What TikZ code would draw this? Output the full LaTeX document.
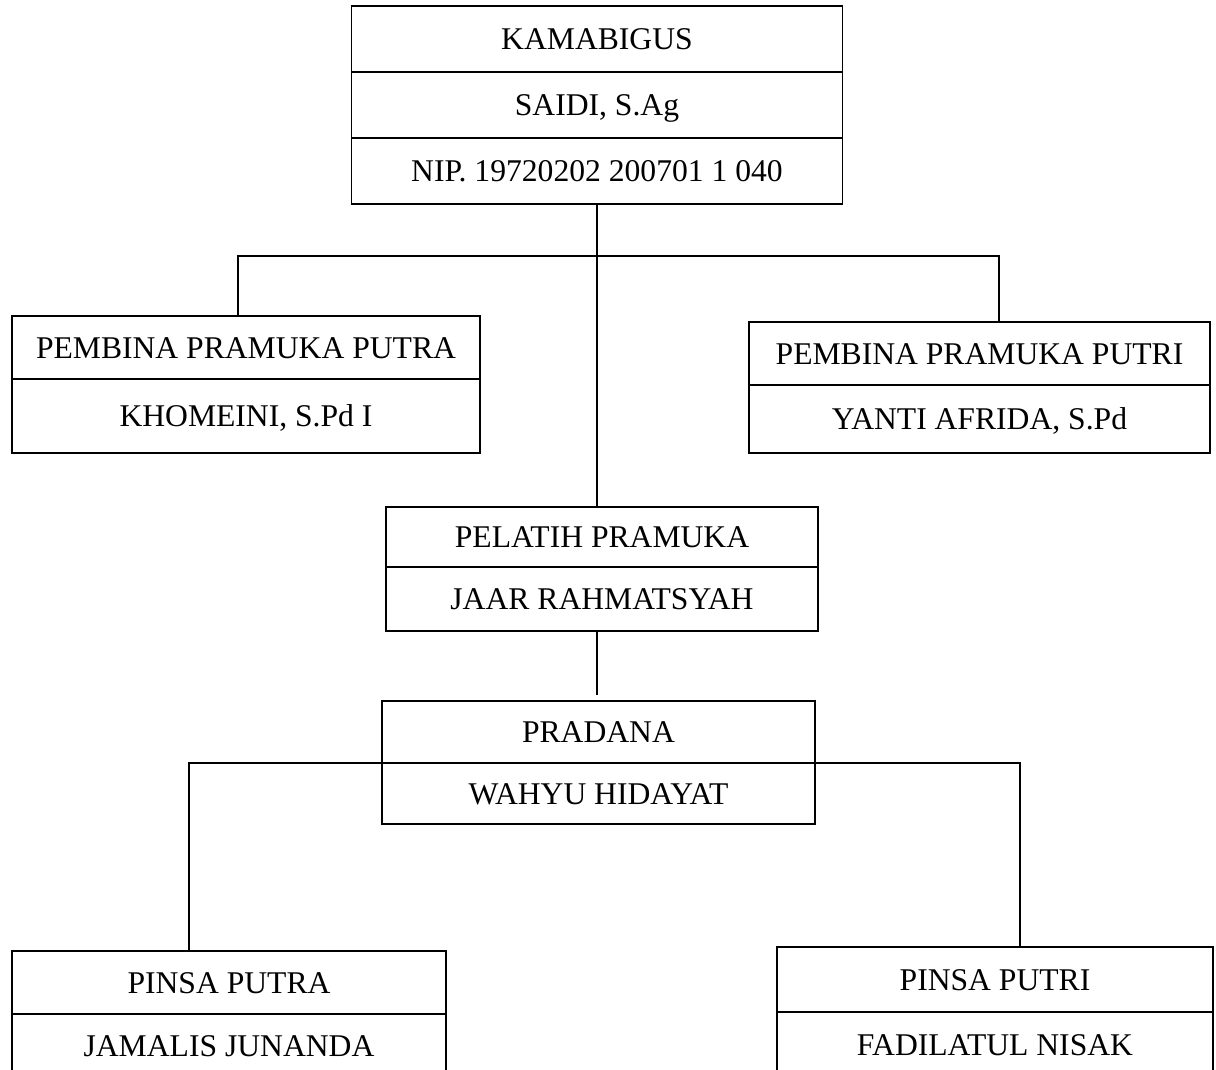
\documentclass[tikz,border=0pt]{standalone}
\usepackage{fontspec}
\setmainfont{Liberation Serif}
\usetikzlibrary{positioning}

\begin{document}
\begin{tikzpicture}[x = 0.02cm, y = -0.02cm, line width = 1pt, node distance = 0pt,
        cell/.style = {draw, outer sep = 0pt, inner sep = 0pt, text height = 12pt, text depth = 0pt,
            font = \fontsize{18}{22}\selectfont}]
        \useasboundingbox (0, 0) rectangle (1216, 1070);
        \clip (0, 0) rectangle (1216, 1070);
        % kamabigus
        \node[cell, minimum width = 9.82cm, minimum height = 1.32cm] (kama) at (597, 39) {KAMABIGUS};
        \node[cell, minimum width = 9.82cm, minimum height = 1.32cm, below = of kama] (saidi) {SAIDI, S.Ag};
        \node[cell, minimum width = 9.82cm, minimum height = 1.32cm, below = of saidi] (nip) {NIP. 19720202 200701 1 040};
        % pembina
        \node[cell, minimum width = 9.36cm, minimum height = 1.26cm] (pembinaputra) at (246, 347.5) {PEMBINA PRAMUKA PUTRA};
        \node[cell, minimum width = 9.36cm, minimum height = 1.48cm, below = of pembinaputra] (khomeini) {KHOMEINI, S.Pd I};
        \node[cell, minimum width = 9.22cm, minimum height = 1.26cm] (pembinaputri) at (979.5, 353.5) {PEMBINA PRAMUKA PUTRI};
        \node[cell, minimum width = 9.22cm, minimum height = 1.36cm, below = of pembinaputri] (yanti) {YANTI AFRIDA, S.Pd};
        % pelatih, pradana
        \node[cell, minimum width = 8.64cm, minimum height = 1.2cm] (pelatih) at (602, 537) {PELATIH PRAMUKA};
        \node[cell, minimum width = 8.64cm, minimum height = 1.28cm, below = of pelatih] (jaar) {JAAR RAHMATSYAH};
        \node[cell, minimum width = 8.66cm, minimum height = 1.24cm] (pradana) at (598.5, 732) {PRADANA};
        \node[cell, minimum width = 8.66cm, minimum height = 1.22cm, below = of pradana] (wahyu) {WAHYU HIDAYAT};
        % pinsa
        \node[cell, minimum width = 8.68cm, minimum height = 1.26cm] (pinsaputra) at (229, 982.5) {PINSA PUTRA};
        \node[cell, minimum width = 8.68cm, minimum height = 1.26cm, below = of pinsaputra] (jamalis) {JAMALIS JUNANDA};
        \node[cell, minimum width = 8.72cm, minimum height = 1.3cm] (pinsaputri) at (995, 979.5) {PINSA PUTRI};
        \node[cell, minimum width = 8.72cm, minimum height = 1.3cm, below = of pinsaputri] (fadilatul) {FADILATUL NISAK};
        % lines
        \coordinate (lknee) at (238, 256);
        \coordinate (rknee) at (999, 256);
        \coordinate (gap) at (597, 695);
        \coordinate (lbend) at (189, 763);
        \coordinate (rbend) at (1020, 763);
        \draw (nip.south) -- (nip.south |- pelatih.north);
        \draw (lknee |- pembinaputra.north) -- (lknee) -- (rknee) -- (rknee |- pembinaputri.north);
        \draw (jaar.south -| gap) -- (gap);
        \draw (lbend |- pinsaputra.north) -- (lbend) -- (wahyu.north west);
        \draw (wahyu.north east) -- (rbend) -- (rbend |- pinsaputri.north);
    \end{tikzpicture}
\end{document}
